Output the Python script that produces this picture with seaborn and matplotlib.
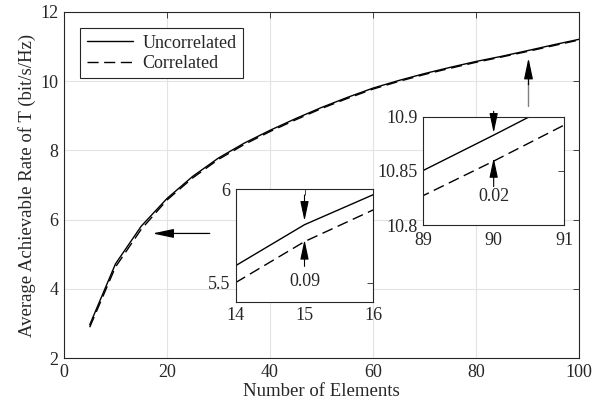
import numpy as np
import pandas as pd
import seaborn as sns
import matplotlib.pyplot as plt

# Data
elements = [5, 10, 15, 20, 25, 30, 35, 40, 45, 50, 55, 60, 65, 70, 75, 80, 85, 90, 95, 100]
rate_uncorr = [2.96, 4.72, 5.81, 6.61, 7.25, 7.78, 8.21, 8.58, 8.92, 9.24, 9.53, 9.80,
               10.02, 10.22, 10.40, 10.57, 10.72, 10.883, 11.05, 11.21]
rate_corr = [2.89, 4.63, 5.72, 6.565, 7.205, 7.74, 8.17, 8.545, 8.885, 9.21, 9.50, 9.772,
             9.993, 10.194, 10.374, 10.545, 10.70, 10.859, 11.025, 11.19]

df = pd.DataFrame({
    'N': elements * 2,
    'rate': rate_uncorr + rate_corr,
    'case': ['Uncorrelated'] * len(elements) + ['Correlated'] * len(elements),
})

sns.set_theme(style="whitegrid")
plt.rcParams['font.family'] = ['Liberation Serif', 'DejaVu Serif']
axcol = '#262626'

fig = plt.figure(figsize=(6.07, 4.18), dpi=100)
ax = fig.add_axes([0.1054, 0.1435, 0.8484, 0.8278])

styles = {'Uncorrelated': '', 'Correlated': (8, 4)}


def draw(a, lw=1.0):
    sns.lineplot(data=df, x='N', y='rate', hue='case', style='case',
                 palette={'Uncorrelated': 'black', 'Correlated': 'black'},
                 dashes=styles, linewidth=lw, ax=a, legend=(a is ax))


def style_axes(a, fs=13):
    a.set_facecolor('white')
    for s in a.spines.values():
        s.set_color(axcol)
        s.set_linewidth(0.8)
        s.set_visible(True)
    a.tick_params(direction='in', top=True, right=True, length=4, width=0.6,
                  colors=axcol, labelsize=fs, pad=4)
    a.set_xlabel('')
    a.set_ylabel('')


draw(ax)
ax.set_xlim(0, 100)
ax.set_ylim(2, 12)
ax.set_xticks([0, 20, 40, 60, 80, 100])
ax.set_yticks([2, 4, 6, 8, 10, 12])
style_axes(ax)
ax.grid(True, color='#e3e3e3', linewidth=0.8)
ax.set_xlabel('Number of Elements', fontsize=13.5, color=axcol, labelpad=2)
ax.set_ylabel('Average Achievable Rate of T (bit/s/Hz)', fontsize=13.5, color=axcol, labelpad=3)

leg = ax.legend(loc='upper left', fontsize=13, frameon=True, fancybox=False,
                handlelength=2.6, borderaxespad=0.9, borderpad=0.35,
                labelspacing=0.2, handletextpad=0.5)
leg.get_frame().set_edgecolor(axcol)
leg.get_frame().set_linewidth(0.8)
leg.get_frame().set_alpha(1)

# arrows on main axes pointing to zoomed regions
head = dict(arrowstyle='-|>,head_length=0.8,head_width=0.17', color='black',
            lw=0.9, shrinkA=0, shrinkB=0, mutation_scale=16)
ax.annotate('', xy=(17.2, 5.6), xytext=(28.3, 5.6), arrowprops=head)
ax.annotate('', xy=(90.2, 9.95), xytext=(90.2, 9.27),
            arrowprops=dict(arrowstyle='-', color='#808080', lw=1.0, shrinkA=0, shrinkB=0))
ax.annotate('', xy=(90.2, 10.67), xytext=(90.2, 9.9), arrowprops=head)

# inset 1
ax1 = fig.add_axes([0.3883, 0.2782, 0.2267, 0.2696])
draw(ax1)
ax1.set_xlim(14, 16)
ax1.set_ylim(5.4, 6)
ax1.set_xticks([14, 15, 16])
ax1.set_yticks([5.5, 6])
ax1.set_yticklabels(['5.5', '6'])
style_axes(ax1)
ax1.grid(False)
small = dict(arrowstyle='-|>,head_length=0.8,head_width=0.17', color='black',
             lw=0.8, shrinkA=0, shrinkB=0, mutation_scale=15)
ax1.annotate('', xy=(15, 5.83), xytext=(15, 5.968), arrowprops=small)
ax1.annotate('', xy=(15, 5.73), xytext=(15, 5.588), arrowprops=small)
ax1.text(15, 5.51, '0.09', ha='center', va='center', fontsize=13, color=axcol)

# inset 2
ax2 = fig.add_axes([0.6974, 0.4617, 0.2318, 0.2591])
draw(ax2)
ax2.set_xlim(89, 91)
ax2.set_ylim(10.8, 10.9)
ax2.set_xticks([89, 90, 91])
ax2.set_yticks([10.8, 10.85, 10.9])
ax2.set_yticklabels(['10.8', '10.85', '10.9'])
style_axes(ax2)
ax2.grid(False)
ax2.tick_params(axis='x', pad=5)
ax2.annotate('', xy=(90, 10.885), xytext=(90, 10.905), arrowprops=small,
             annotation_clip=False)
ax2.annotate('', xy=(90, 10.862), xytext=(90, 10.8355), arrowprops=small)
ax2.text(90, 10.826, '0.02', ha='center', va='center', fontsize=13, color=axcol)

fig.savefig('out.png', dpi=100)
